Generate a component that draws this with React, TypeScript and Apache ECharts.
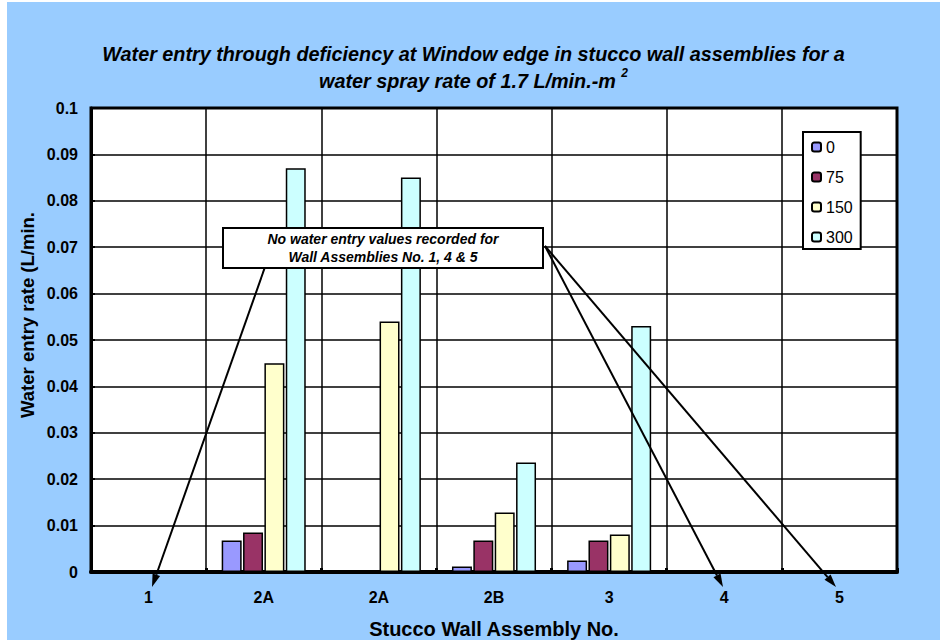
import React, { useEffect, useRef } from "react";
import * as echarts from "echarts";

const categories = ["1", "2A", "2A", "2B", "3", "4", "5"];
const seriesNames = ["0", "75", "150", "300"];
const values0 = [null, 0.0068, null, 0.0012, 0.0025, null, null];
const values75 = [null, 0.0085, null, 0.0068, 0.0068, null, null];
const values150 = [null, 0.045, 0.054, 0.0128, 0.0081, null, null];
const values300 = [null, 0.087, 0.085, 0.0236, 0.053, null, null];
const seriesColors = ["#9999FF", "#993366", "#FFFFCC", "#CCFFFF"];

const FONT = '"Liberation Sans", Arial, sans-serif';

function arrowHead(x1: number, y1: number, x2: number, y2: number, len = 13, half = 4) {
  const a = Math.atan2(y2 - y1, x2 - x1);
  const bx = x2 - len * Math.cos(a);
  const by = y2 - len * Math.sin(a);
  return {
    base: [bx, by],
    points: [
      [x2, y2],
      [bx + half * Math.sin(a), by - half * Math.cos(a)],
      [bx - half * Math.sin(a), by + half * Math.cos(a)],
    ],
  };
}

function pointer(x1: number, y1: number, x2: number, y2: number) {
  const h = arrowHead(x1, y1, x2, y2);
  return [
    {
      type: "line",
      z: 100,
      shape: { x1, y1, x2: h.base[0], y2: h.base[1] },
      style: { stroke: "#000", lineWidth: 2 },
    },
    {
      type: "polygon",
      z: 100,
      shape: { points: h.points },
      style: { fill: "#000" },
    },
  ];
}

export default function App() {
  const ref = useRef<HTMLDivElement>(null);
  useEffect(() => {
    if (!ref.current) return;
    const chart = echarts.init(ref.current, null, { renderer: "svg" });
    const all = [values0, values75, values150, values300];
    chart.setOption({
      animation: false,
      backgroundColor: "#99CCFF",
      textStyle: { fontFamily: FONT, color: "#000" },
      title: {
        text:
          "Water entry through deficiency at Window edge in stucco wall assemblies for a\nwater spray rate of 1.7 L/min.-m {sup|2}",
        left: "center",
        top: 38,
        padding: 0,
        textStyle: {
          fontFamily: FONT,
          fontSize: 19.8,
          fontWeight: "bold",
          fontStyle: "italic",
          color: "#000",
          lineHeight: 27,
          rich: {
            sup: {
              fontFamily: FONT,
              fontSize: 12,
              fontWeight: "bold",
              fontStyle: "italic",
              color: "#000",
              verticalAlign: "top",
              lineHeight: 14,
              padding: [0, 0, 10, 0],
            },
          },
        },
      },
      legend: {
        data: seriesNames,
        orient: "vertical",
        left: 796,
        top: 130,
        padding: [7, 8, 4, 8],
        itemWidth: 9,
        itemHeight: 9,
        itemGap: 14,
        backgroundColor: "#fff",
        borderColor: "#000",
        borderWidth: 2,
        borderRadius: 0,
        textStyle: { fontFamily: FONT, fontSize: 16, color: "#000", lineHeight: 16 },
      },
      grid: {
        left: 84,
        top: 106,
        width: 806,
        height: 464,
        show: true,
        backgroundColor: "#fff",
        borderColor: "#000",
        borderWidth: 3,
        containLabel: false,
        outerBoundsMode: "none",
      },
      xAxis: {
        type: "category",
        data: categories,
        boundaryGap: true,
        axisLine: { show: true, lineStyle: { color: "#000", width: 4 } },
        axisTick: { show: true, inside: true, length: 4, lineStyle: { color: "#000", width: 3 } },
        axisLabel: {
          color: "#000",
          fontFamily: FONT,
          fontSize: 16,
          fontWeight: "bold",
          margin: 17,
        },
        splitLine: { show: true, lineStyle: { color: "#000", width: 1.5 } },
        name: "Stucco Wall Assembly No.",
        nameLocation: "middle",
        nameGap: 47,
        nameTextStyle: { color: "#000", fontFamily: FONT, fontSize: 20, fontWeight: "bold" },
      },
      yAxis: {
        type: "value",
        min: 0,
        max: 0.1,
        interval: 0.01,
        axisLine: { show: true, lineStyle: { color: "#000", width: 3 } },
        axisTick: { show: true, inside: true, length: 4, lineStyle: { color: "#000", width: 2 } },
        axisLabel: {
          color: "#000",
          fontFamily: FONT,
          fontSize: 16,
          fontWeight: "bold",
          margin: 13,
        },
        splitLine: { show: true, lineStyle: { color: "#000", width: 1.5 } },
      },
      series: all.map((vals, i) => ({
        name: seriesNames[i],
        type: "bar",
        data: vals,
        barCategoryGap: "27%",
        barGap: "7%",
        itemStyle: { color: seriesColors[i], borderColor: "#000", borderWidth: 1.5 },
      })),
      graphic: [
        {
          type: "text",
          x: 20,
          y: 313,
          rotation: Math.PI / 2,
          style: {
            text: "Water entry rate (L/min.",
            fontFamily: FONT,
            fontSize: 18.5,
            fontWeight: "bold",
            fill: "#000",
            align: "center",
            verticalAlign: "middle",
          },
        },
        ...pointer(264, 248, 145, 585),
        ...pointer(538, 244, 716, 585),
        ...pointer(538, 244, 829, 585),
        {
          type: "rect",
          z: 110,
          shape: { x: 216, y: 226, width: 320, height: 40 },
          style: { fill: "#fff", stroke: "#000", lineWidth: 2 },
        },
        {
          type: "text",
          z: 111,
          x: 376,
          y: 246,
          style: {
            text: "No water entry values recorded for\nWall Assemblies No. 1, 4 & 5",
            fontFamily: FONT,
            fontSize: 14,
            fontWeight: "bold",
            fontStyle: "italic",
            lineHeight: 18,
            fill: "#000",
            align: "center",
            verticalAlign: "middle",
          },
        },
      ],
    });
    return () => chart.dispose();
  }, []);
  return (
    <div
      ref={ref}
      style={{ position: "fixed", left: 7, top: 2, width: 933, height: 638 }}
    />
  );
}
